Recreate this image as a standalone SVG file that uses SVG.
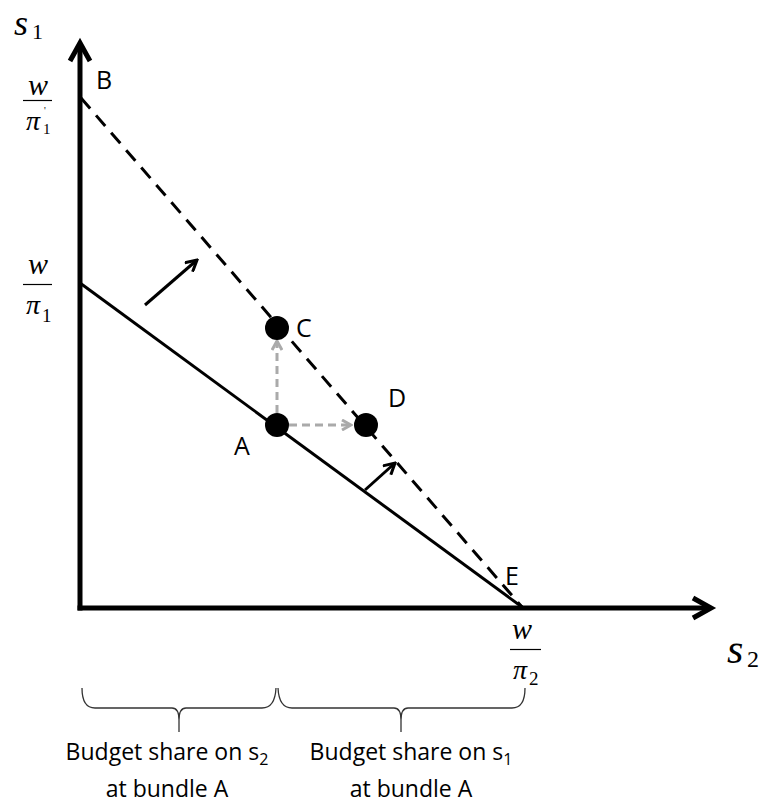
<svg xmlns="http://www.w3.org/2000/svg" width="761" height="805" viewBox="0 0 761 805">
<style>
.ax{stroke:#000;stroke-width:5;fill:none;stroke-linecap:butt}
.head{stroke:#000;stroke-width:5;fill:none;stroke-linejoin:miter}
.solid{stroke:#000;stroke-width:3;fill:none}
.dash{stroke:#000;stroke-width:3;fill:none;stroke-dasharray:14 9}
.gray{stroke:#aaaaaa;stroke-width:3;fill:none;stroke-dasharray:8 5}
.shift{stroke:#000;stroke-width:3;fill:none}
.pt{fill:#000}
.lbl{font-family:'Open Sans','Liberation Sans',sans-serif;font-size:25px;fill:#000}
.math{font-family:'Liberation Serif','DejaVu Serif',serif;font-style:italic;fill:#000}
.num{font-family:'Liberation Serif','DejaVu Serif',serif;font-style:normal;fill:#000}
.frac{stroke:#000;stroke-width:1.2}
.brace{stroke:#333;stroke-width:1.3;fill:none}
.cap{font-family:'Open Sans','Liberation Sans',sans-serif;font-size:23px;fill:#000;text-anchor:middle}
</style>
<defs>
<marker id="chev" viewBox="0 0 14 14" refX="12" refY="7" markerWidth="14" markerHeight="14" markerUnits="userSpaceOnUse" orient="auto">
<path d="M1,1 L12,7 L1,13" fill="none" stroke="#000" stroke-width="3"/>
</marker>
<marker id="chevg" viewBox="0 0 12 12" refX="10" refY="6" markerWidth="12" markerHeight="12" markerUnits="userSpaceOnUse" orient="auto">
<path d="M1,1 L10,6 L1,11" fill="none" stroke="#aaaaaa" stroke-width="3"/>
</marker>
</defs>
<g id="axes">
<line class="ax" x1="80" y1="610.5" x2="80" y2="44"/>
<polyline class="head" points="70,61 80,43 90,61"/>
<line class="ax" x1="77.5" y1="608" x2="709" y2="608"/>
<polyline class="head" points="693,598 711,608 693,618"/>
</g>
<g id="connectors">
<line class="solid" x1="80" y1="283" x2="522" y2="607"/>
<line class="dash" x1="81" y1="98" x2="522" y2="607"/>
<line class="gray" x1="277" y1="413" x2="277" y2="341" marker-end="url(#chevg)"/>
<line class="gray" x1="289" y1="425" x2="351" y2="425" marker-end="url(#chevg)"/>
<line class="shift" x1="145" y1="305" x2="197" y2="260" marker-end="url(#chev)"/>
<line class="shift" x1="365" y1="490" x2="395" y2="463" marker-end="url(#chev)"/>
</g>
<g id="node-A"><circle class="pt" cx="277" cy="425" r="12"/><text class="lbl" x="234" y="455">A</text></g>
<g id="node-C"><circle class="pt" cx="277" cy="328" r="12"/><text class="lbl" x="296" y="337">C</text></g>
<g id="node-D"><circle class="pt" cx="366" cy="425" r="12"/><text class="lbl" x="388" y="407">D</text></g>
<g id="node-B"><text class="lbl" x="96" y="89">B</text></g>
<g id="node-E"><text class="lbl" x="505" y="585">E</text></g>
<g id="label-s1"><text class="math" x="14" y="35" font-size="36">s</text><text class="num" x="32" y="39" font-size="22">1</text></g>
<g id="label-s2"><text class="math" x="727" y="663" font-size="42">s</text><text class="num" x="747" y="667" font-size="24">2</text></g>
<g id="frac-1p">
<text class="math" x="38" y="95" font-size="30" text-anchor="middle">w</text>
<line class="frac" x1="23" y1="100.5" x2="52" y2="100.5"/>
<text class="math" x="33" y="130" font-size="28" text-anchor="middle">π</text>
<text class="num" x="43" y="134" font-size="15">1</text>
<text class="num" x="44" y="114" font-size="10">'</text>
</g>
<g id="frac-1">
<text class="math" x="38" y="274" font-size="30" text-anchor="middle">w</text>
<line class="frac" x1="23" y1="284.5" x2="52" y2="284.5"/>
<text class="math" x="33" y="314" font-size="28" text-anchor="middle">π</text>
<text class="num" x="42" y="322" font-size="19">1</text>
</g>
<g id="frac-2">
<text class="math" x="522" y="639" font-size="30" text-anchor="middle">w</text>
<line class="frac" x1="510" y1="649.5" x2="541" y2="649.5"/>
<text class="math" x="520" y="679" font-size="28" text-anchor="middle">π</text>
<text class="num" x="529" y="685" font-size="19">2</text>
</g>
<g id="brace-left">
<path class="brace" d="M82,688 Q82,708 95,708 L172,708 Q179,708 179,720 L179,732 M179,720 Q179,708 186,708 L262,708 Q275,708 276,688"/>
<text class="cap" x="167" y="760">Budget share on s<tspan font-size="16" dy="5">2</tspan></text>
<text class="cap" x="167" y="797">at bundle A</text>
</g>
<g id="brace-right">
<path class="brace" d="M278,688 Q279,708 292,708 L394,708 Q401,708 401,720 L401,732 M401,720 Q401,708 408,708 L512,708 Q525,708 525,688"/>
<text class="cap" x="411" y="760">Budget share on s<tspan font-size="16" dy="5">1</tspan></text>
<text class="cap" x="411" y="797">at bundle A</text>
</g>
</svg>
